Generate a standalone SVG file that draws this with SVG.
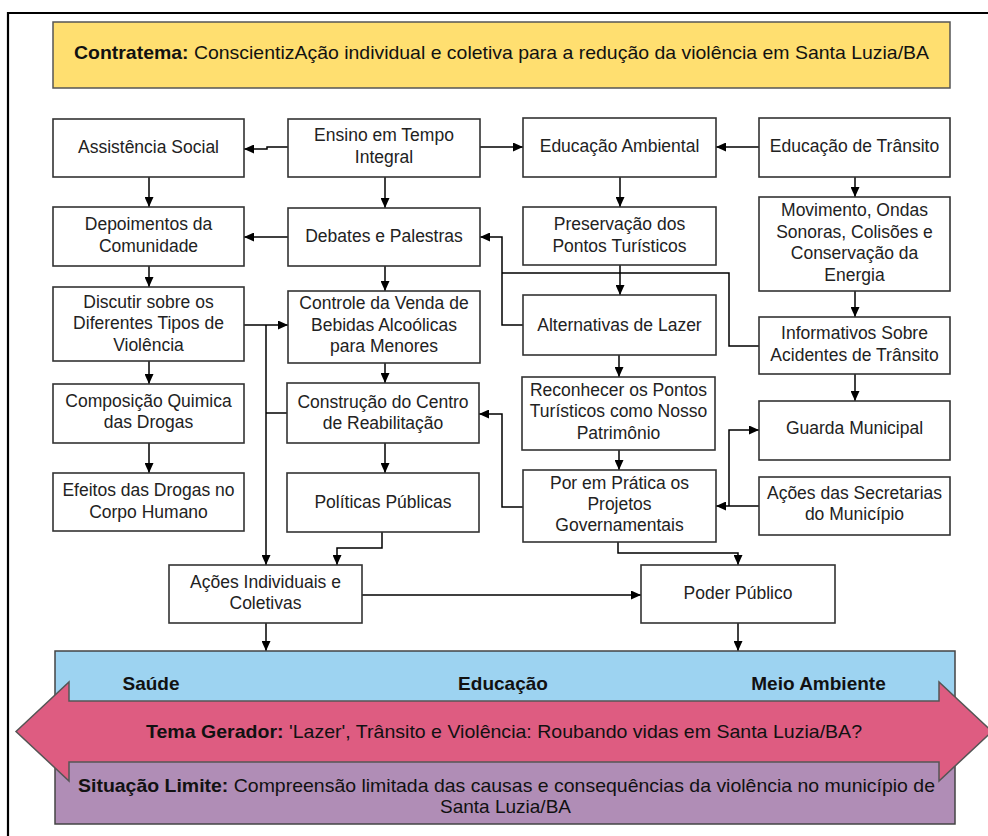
<svg xmlns="http://www.w3.org/2000/svg" width="988" height="836" viewBox="0 0 988 836">
<defs>
<marker id="ah" markerUnits="userSpaceOnUse" markerWidth="11" markerHeight="9" refX="10" refY="4.5" orient="auto">
<path d="M0,0 L10,4.5 L0,9 z" fill="#000"/>
</marker>
<style>
.box{fill:#fff;stroke:#333;stroke-width:1.6}
.t{font-family:"Liberation Sans",Arial,sans-serif;font-size:17.5px;fill:#222;text-anchor:middle}
.b{font-weight:bold}
.c{fill:none;stroke:#000;stroke-width:1.5}
.ca{fill:none;stroke:#000;stroke-width:1.5;marker-end:url(#ah)}
.big{font-family:"Liberation Sans",Arial,sans-serif;font-size:19px;fill:#111;text-anchor:middle}
</style>
</defs>
<rect x="0" y="0" width="988" height="836" fill="#fff"/>
<path d="M8,836 V13 H990" fill="none" stroke="#000" stroke-width="2.2"/>

<g id="contratema">
<rect x="53" y="22" width="897" height="66" fill="#FFDF70" stroke="#555" stroke-width="1.5"/>
<text class="big" x="501.5" y="58.5" textLength="855" lengthAdjust="spacingAndGlyphs"><tspan class="b">Contratema:</tspan> ConscientizAção individual e coletiva para a redução da violência em Santa Luzia/BA</text>
</g>

<g id="connectors">
<path class="ca" d="M288,147 H267 V149 H244"/>
<path class="ca" d="M480,147 H523"/>
<path class="ca" d="M759,147 H716"/>
<path class="ca" d="M149,177 V207"/>
<path class="ca" d="M385,177 V208"/>
<path class="ca" d="M620,177 V207"/>
<path class="ca" d="M855,177 V197"/>
<path class="ca" d="M288,237 H244"/>
<path class="ca" d="M149,266 V287"/>
<path class="ca" d="M385,266 V291"/>
<path class="ca" d="M620,265 V295"/>
<path class="ca" d="M855,291 V317"/>
<path class="ca" d="M523,325 H502 V237 H480"/>
<path class="c" d="M759,346 H729 V273 H502"/>
<path class="ca" d="M244,325 H288"/>
<path class="ca" d="M266,325 V565"/>
<path class="c" d="M287,413 H266"/>
<path class="ca" d="M385,363 V383"/>
<path class="ca" d="M149,361 V384"/>
<path class="ca" d="M149,443 V473"/>
<path class="ca" d="M385,443 V473"/>
<path class="ca" d="M619,355 V377"/>
<path class="ca" d="M619,450 V470"/>
<path class="ca" d="M855,374 V401"/>
<path class="ca" d="M523,507 H502 V414 H479"/>
<path class="ca" d="M759,506 H716"/>
<path class="ca" d="M729,506 V430 H759"/>
<path class="ca" d="M382,532 V548 H337 V565"/>
<path class="ca" d="M618,542 V553 H738 V565"/>
<path class="ca" d="M362,595 H641"/>
<path class="ca" d="M266,623 V651"/>
<path class="ca" d="M738,623 V651"/>
</g>

<g id="assistencia"><rect class="box" x="53" y="119" width="191" height="58"/><text class="t" x="148.5" y="153">Assistência Social</text></g>
<g id="ensino"><rect class="box" x="288" y="119" width="192" height="58"/><text class="t" x="384" y="141">Ensino em Tempo<tspan x="384" y="163">Integral</tspan></text></g>
<g id="ed-ambiental"><rect class="box" x="523" y="118" width="193" height="59"/><text class="t" x="619.5" y="152">Educação Ambiental</text></g>
<g id="ed-transito"><rect class="box" x="759" y="118" width="191" height="59"/><text class="t" x="854.5" y="152">Educação de Trânsito</text></g>
<g id="depoimentos"><rect class="box" x="53" y="207" width="191" height="59"/><text class="t" x="148.5" y="230">Depoimentos da<tspan x="148.5" y="251.7">Comunidade</tspan></text></g>
<g id="debates"><rect class="box" x="288" y="208" width="192" height="58"/><text class="t" x="384" y="242">Debates e Palestras</text></g>
<g id="preservacao"><rect class="box" x="523" y="207" width="193" height="58"/><text class="t" x="619.5" y="230">Preservação dos<tspan x="619.5" y="251.7">Pontos Turísticos</tspan></text></g>
<g id="movimento"><rect class="box" x="759" y="197" width="191" height="94"/><text class="t" x="854.5" y="216">Movimento, Ondas<tspan x="854.5" y="237.7">Sonoras, Colisões e</tspan><tspan x="854.5" y="259">Conservação da</tspan><tspan x="854.5" y="281">Energia</tspan></text></g>
<g id="discutir"><rect class="box" x="53" y="287" width="191" height="74"/><text class="t" x="148.5" y="307.7">Discutir sobre os<tspan x="148.5" y="329.3">Diferentes Tipos de</tspan><tspan x="148.5" y="350.5">Violência</tspan></text></g>
<g id="controle"><rect class="box" x="288" y="291" width="192" height="72"/><text class="t" x="384" y="309.3">Controle da Venda de<tspan x="384" y="330.5">Bebidas Alcoólicas</tspan><tspan x="384" y="351.5">para Menores</tspan></text></g>
<g id="alternativas"><rect class="box" x="523" y="295" width="193" height="60"/><text class="t" x="619.5" y="331">Alternativas de Lazer</text></g>
<g id="informativos"><rect class="box" x="759" y="317" width="191" height="57"/><text class="t" x="854.5" y="339.3">Informativos Sobre<tspan x="854.5" y="361">Acidentes de Trânsito</tspan></text></g>
<g id="composicao"><rect class="box" x="53" y="384" width="191" height="59"/><text class="t" x="148.5" y="407">Composição Quimica<tspan x="148.5" y="428.3">das Drogas</tspan></text></g>
<g id="construcao"><rect class="box" x="287" y="383" width="192" height="60"/><text class="t" x="383" y="407.7">Construção do Centro<tspan x="383" y="428.7">de Reabilitação</tspan></text></g>
<g id="reconhecer"><rect class="box" x="522" y="377" width="193" height="73"/><text class="t" x="618.5" y="396">Reconhecer os Pontos<tspan x="618.5" y="417">Turísticos como Nosso</tspan><tspan x="618.5" y="438.7">Patrimônio</tspan></text></g>
<g id="guarda"><rect class="box" x="759" y="401" width="191" height="59"/><text class="t" x="854.5" y="434.3">Guarda Municipal</text></g>
<g id="efeitos"><rect class="box" x="53" y="473" width="191" height="58"/><text class="t" x="148.5" y="496">Efeitos das Drogas no<tspan x="148.5" y="517.7">Corpo Humano</tspan></text></g>
<g id="politicas"><rect class="box" x="287" y="473" width="192" height="59"/><text class="t" x="383" y="507.7">Políticas Públicas</text></g>
<g id="por-em-pratica"><rect class="box" x="523" y="470" width="193" height="72"/><text class="t" x="619.5" y="489">Por em Prática os<tspan x="619.5" y="510">Projetos</tspan><tspan x="619.5" y="531">Governamentais</tspan></text></g>
<g id="secretarias"><rect class="box" x="759" y="477" width="191" height="58"/><text class="t" x="854.5" y="499.3">Ações das Secretarias<tspan x="854.5" y="520.3">do Município</tspan></text></g>
<g id="acoes"><rect class="box" x="169" y="565" width="193" height="58"/><text class="t" x="265.5" y="587.7">Ações Individuais e<tspan x="265.5" y="609.3">Coletivas</tspan></text></g>
<g id="poder-publico"><rect class="box" x="641" y="565" width="194" height="58"/><text class="t" x="738" y="599.3">Poder Público</text></g>

<g id="areas">
<rect x="55" y="651" width="900" height="60" fill="#9DD3F1" stroke="#444" stroke-width="1.5"/>
<text class="big b" x="151" y="690">Saúde</text>
<text class="big b" x="503" y="690">Educação</text>
<text class="big b" x="818.5" y="690">Meio Ambiente</text>
</g>
<g id="situacao-limite">
<rect x="55" y="752" width="900" height="72" fill="#B08DB6" stroke="#444" stroke-width="1.5"/>
</g>
<g id="tema-gerador">
<polygon points="16,731.5 69,682 69,701 939,701 939,682 992,731.5 939,781 939,762 69,762 69,781" fill="#DE5C81" stroke="#555" stroke-width="1.5"/>
<text class="big" x="504" y="738" textLength="716" lengthAdjust="spacingAndGlyphs"><tspan class="b">Tema Gerador:</tspan> 'Lazer', Trânsito e Violência: Roubando vidas em Santa Luzia/BA?</text>
</g>
<text class="big" x="506.5" y="791.5" textLength="857" lengthAdjust="spacingAndGlyphs"><tspan class="b">Situação Limite:</tspan> Compreensão limitada das causas e consequências da violência no município de</text>
<text class="big" x="505.5" y="812.5">Santa Luzia/BA</text>
</svg>
